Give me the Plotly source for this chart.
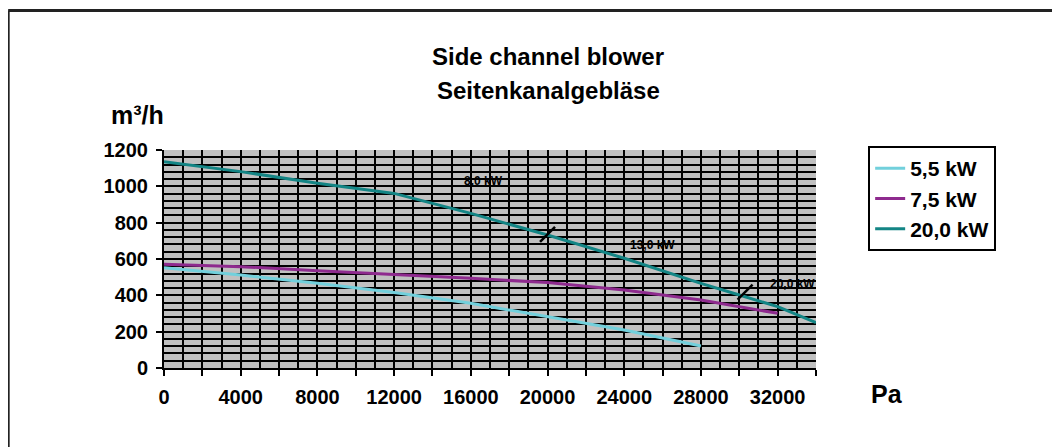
import plotly.graph_objects as go

# ---- data ----
pa_55 = [0, 4000, 8000, 12000, 16000, 20000, 24000, 28000]
q_55 = [552, 512, 466, 415, 356, 283, 209, 121]

pa_75 = [0, 4000, 8000, 12000, 16000, 20000, 24000, 28000, 32000]
q_75 = [571, 558, 536, 517, 494, 470, 429, 374, 301]

pa_200 = [0, 4000, 8000, 12000, 16000, 17500, 20000, 24000, 28000, 30000, 32000, 34000]
q_200 = [1135, 1081, 1017, 961, 851, 805, 732, 604, 466, 402, 338, 250]

series_names = ["5,5 kW", "7,5 kW", "20,0 kW"]
series_colors = ["#72D0DC", "#8E2A8E", "#138585"]

# power-range labels along the 20 kW curve
power_labels = ["8,0 kW", "13,0 kW", "20,0 kW"]
power_label_pa = [16660, 25480, 32790]
power_label_q = [1029, 677, 462]

# switch marks on the 20 kW curve
switch_pa = [20000, 30300]
switch_q = [736, 418]

x_tickvals = list(range(0, 34001, 2000))
x_ticktext = [str(v) if v % 4000 == 0 and v <= 32000 else "" for v in x_tickvals]
y_tickvals = list(range(0, 1201, 200))

FONT = "Arial, Liberation Sans, sans-serif"

fig = go.Figure()
for xs, ys, name, col in zip([pa_55, pa_75, pa_200], [q_55, q_75, q_200], series_names, series_colors):
    fig.add_trace(go.Scatter(x=xs, y=ys, mode="lines", name=name,
                             line=dict(color=col, width=3)))

fig.add_trace(go.Scatter(x=switch_pa, y=switch_q, mode="markers", showlegend=False,
                         marker=dict(symbol="line-ne", size=15,
                                     line=dict(color="black", width=2.5))))

for t, px, q in zip(power_labels, power_label_pa, power_label_q):
    fig.add_annotation(x=px, y=q, text=t, showarrow=False, xanchor="center", yanchor="middle",
                       font=dict(family=FONT, size=12, color="black", weight="bold"))

def paper_text(x, y, text, size):
    fig.add_annotation(xref="paper", yref="paper", x=x, y=y, text=text,
                       showarrow=False, xanchor="center", yanchor="middle",
                       font=dict(family=FONT, size=size, color="black", weight="bold"))

paper_text(0.589, 1.428, "Side channel blower", 24)
paper_text(0.589, 1.275, "Seitenkanalgebläse", 24)
paper_text(-0.041, 1.161, "m³/h", 25)
paper_text(1.109, -0.119, "Pa", 25)

# outer frame: only the top and left edges are inside the picture
fig.add_shape(type="line", xref="paper", yref="paper", x0=-0.239, y0=1.640, x1=1.5, y1=1.640,
              line=dict(color="#222222", width=3), layer="below")
fig.add_shape(type="line", xref="paper", yref="paper", x0=-0.239, y0=1.640, x1=-0.239, y1=-0.5,
              line=dict(color="#222222", width=3), layer="below")

fig.update_xaxes(range=[0, 34000], tickvals=x_tickvals, ticktext=x_ticktext,
                 ticks="outside", ticklen=6, tickwidth=2, tickcolor="black",
                 showline=True, linecolor="black", linewidth=2,
                 showgrid=True, gridcolor="black", gridwidth=2,
                 minor=dict(dtick=1000, tick0=0, showgrid=True, gridcolor="black", gridwidth=2),
                 tickfont=dict(family=FONT, size=20, color="black", weight="bold"),
                 ticklabelstandoff=4, zeroline=False, fixedrange=True)
fig.update_yaxes(range=[0, 1200], tickvals=y_tickvals,
                 ticks="outside", ticklen=6, tickwidth=2, tickcolor="black",
                 showline=True, linecolor="black", linewidth=2,
                 showgrid=True, gridcolor="black", gridwidth=2,
                 minor=dict(dtick=40, tick0=0, showgrid=True, gridcolor="black", gridwidth=2),
                 tickfont=dict(family=FONT, size=20, color="black", weight="bold"),
                 ticklabelstandoff=4, zeroline=False, fixedrange=True)

# page body has an 8px default margin: figure sized to fit the window without overflow
fig.update_layout(
    width=1052, height=439,
    margin=dict(l=156, r=244, t=142, b=79),
    paper_bgcolor="white", plot_bgcolor="#C0C0C0",
    showlegend=True,
    legend=dict(x=1.08, y=1.018, xanchor="left", yanchor="top",
                bordercolor="black", borderwidth=2, bgcolor="white",
                font=dict(family=FONT, size=21, color="black", weight="bold"),
                tracegroupgap=0),
)

fig.write_html("out.html")
